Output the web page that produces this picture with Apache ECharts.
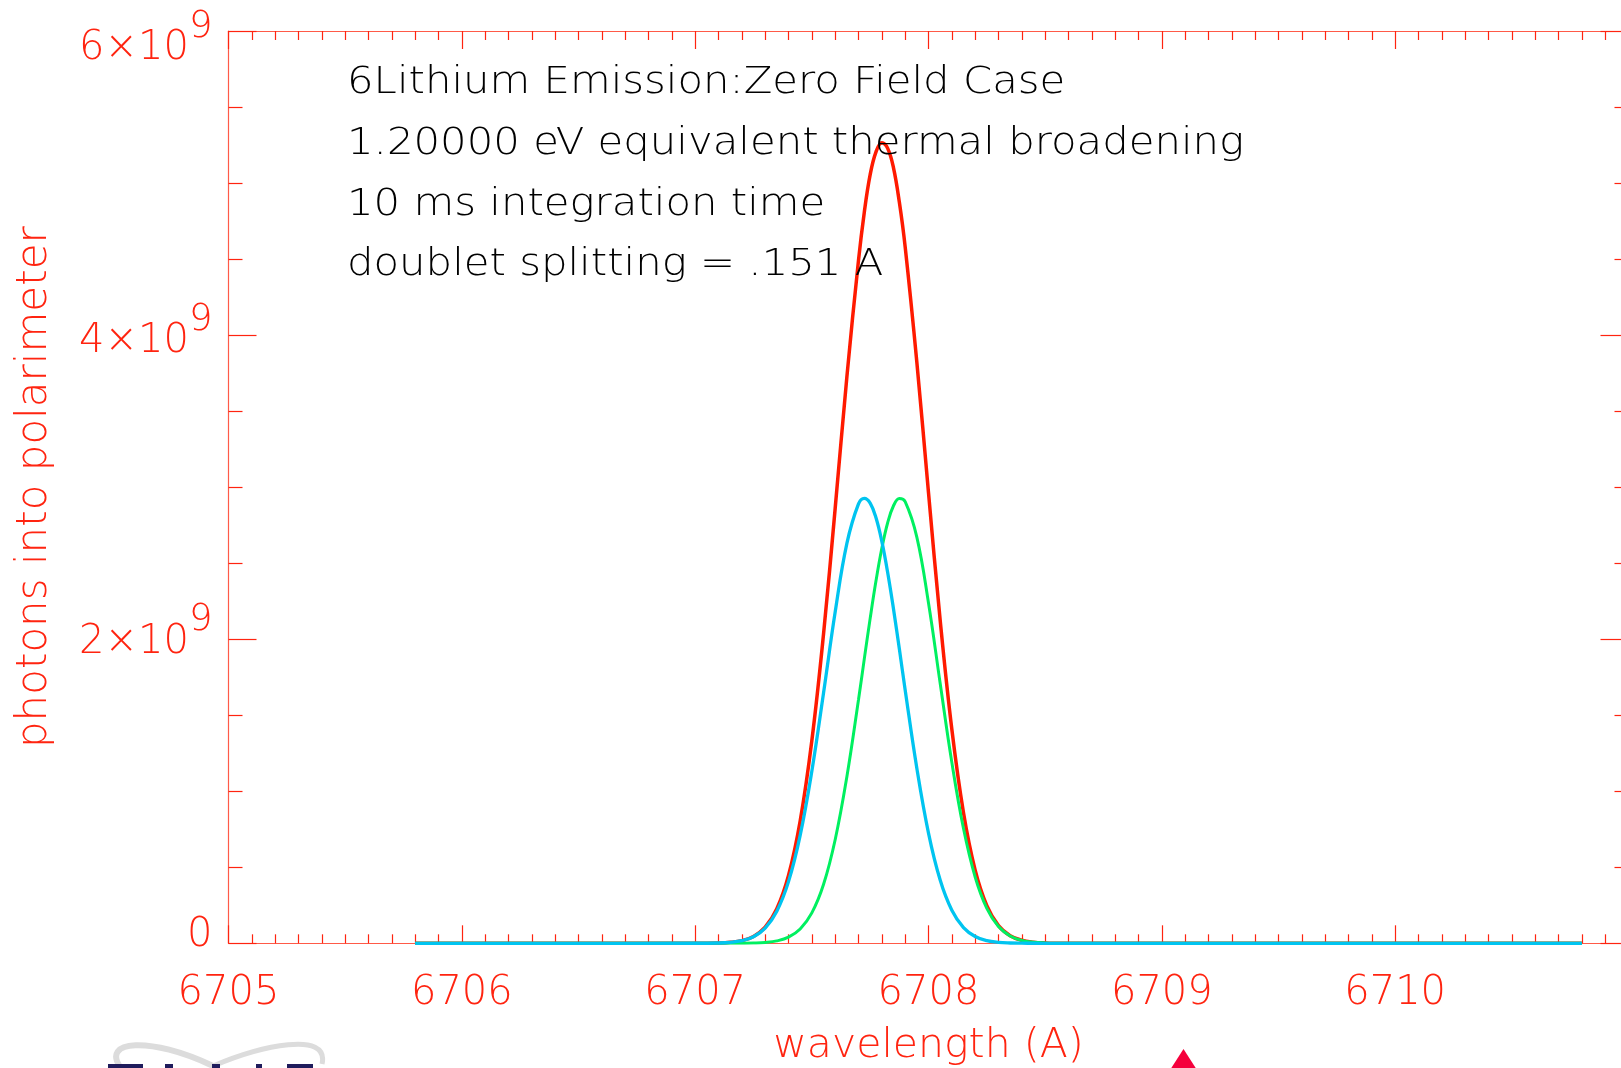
<!DOCTYPE html>
<html>
<head>
<meta charset="utf-8">
<script src="https://cdn.jsdelivr.net/npm/echarts@6/dist/echarts.min.js"></script>
<style>
  html, body { margin: 0; padding: 0; background: #ffffff; }
  #chart { width: 1621px; height: 1068px; }
</style>
</head>
<body>
<div id="chart"></div>
<script>
// Wavelength samples (Angstrom)
const wavelength = [
  6705.80, 6706.50, 6707.00, 6707.10, 6707.15, 6707.20, 6707.25, 6707.30, 6707.35, 6707.40,
  6707.45, 6707.50, 6707.55, 6707.60, 6707.65, 6707.70, 6707.725, 6707.75, 6707.775, 6707.80,
  6707.825, 6707.85, 6707.875, 6707.90, 6707.95, 6708.00, 6708.05, 6708.10, 6708.15, 6708.20,
  6708.25, 6708.30, 6708.35, 6708.40, 6708.45, 6708.50, 6708.55, 6708.60, 6708.80, 6709.50,
  6710.80
];
// Photons into polarimeter, units of 1e9
const totalLine = [
  0, 0, 0.0002, 0.0020, 0.0062, 0.0176, 0.0452, 0.1059, 0.2271, 0.4461,
  0.8040, 1.3320, 2.0314, 2.8594, 3.7225, 4.4916, 4.8100, 5.0550, 5.2050, 5.2650,
  5.2280, 5.1000, 4.8750, 4.5800, 3.8225, 2.9634, 2.1255, 1.4072, 0.8581, 0.4810,
  0.2474, 0.1166, 0.0503, 0.0198, 0.0072, 0.0023, 0.0007, 0.0002, 0, 0,
  0
];
const blueComponent = [
  0, 0, 0.0002, 0.0020, 0.0061, 0.0171, 0.0434, 0.1003, 0.2113, 0.4057,
  0.7099, 1.1322, 1.6450, 2.1781, 2.6281, 2.8895, 2.9260, 2.8948, 2.7983, 2.6428,
  2.4387, 2.1984, 1.9366, 1.6666, 1.1512, 0.7247, 0.4157, 0.2173, 0.1035, 0.0449,
  0.0178, 0.0064, 0.0021, 0.0006, 0.0002, 0, 0, 0, 0, 0,
  0
];
const greenComponent = [
  0, 0, 0, 0, 0.0001, 0.0005, 0.0018, 0.0056, 0.0158, 0.0404,
  0.0941, 0.1998, 0.3864, 0.6813, 1.0944, 1.6021, 1.8721, 2.1370, 2.3837, 2.5978,
  2.7660, 2.8775, 2.9247, 2.9043, 2.6713, 2.2387, 1.7098, 1.1899, 0.7546, 0.4361,
  0.2296, 0.1102, 0.0482, 0.0192, 0.0070, 0.0023, 0.0007, 0.0002, 0, 0,
  0
];
// Y tick mantissas (x 10^9)
const yTickValues = [0, 2, 4, 6];
const annotationLines = [
  '6Lithium Emission:Zero Field Case',
  '1.20000 eV equivalent thermal broadening',
  '10 ms integration time',
  'doublet splitting = .151 A'
];

const FONT = 'DejaVu Sans';
const WEIGHT = 200;
const RED = '#ff2410';
const AXIS_RED = '#ff5a48';

function pairs(vals) { return wavelength.map((w, i) => [w, vals[i]]); }

// per-tick vertical nudges of the y labels (px, + is down)
const yLabelShift = { 0: -8, 2: 3, 4: 7, 6: 18 };
const SUP_RAISE = 44;
const rich = {};
yTickValues.forEach(v => {
  const s = yLabelShift[v];
  const pTop = s > 0 ? 2 * s : 0, pBot = s < 0 ? -2 * s : 0;
  rich['m' + v] = { fontSize: 40, fontFamily: FONT, fontWeight: WEIGHT, color: RED, padding: [pTop, 0, pBot, 0] };
  rich['s' + v] = { fontSize: 37, fontFamily: FONT, fontWeight: WEIGHT, color: RED, padding: [pTop, 0, pBot + SUP_RAISE, 0] };
});

const chart = echarts.init(document.getElementById('chart'), null, { renderer: 'canvas' });

const tickLine = { color: RED, width: 1.2 };

const option = {
  backgroundColor: '#ffffff',
  animation: false,
  grid: { left: 228.5, top: 31, width: 1400, height: 912.3, containLabel: false, outerBoundsMode: 'none' },
  xAxis: [
    {
      type: 'value', position: 'bottom', min: 6705, max: 6711, interval: 1,
      axisLine: { show: true, onZero: false, lineStyle: { color: AXIS_RED, width: 1.2 } },
      axisTick: { show: true, inside: true, length: 18, lineStyle: tickLine },
      minorTick: { show: true, splitNumber: 10, length: 9, lineStyle: tickLine },
      splitLine: { show: false },
      axisLabel: { show: true, margin: 30, color: RED, fontSize: 40, fontFamily: FONT, fontWeight: WEIGHT, showMaxLabel: false,
        formatter: v => String(Math.round(v)) },
      name: 'wavelength (A)', nameLocation: 'middle', nameGap: 83,
      nameTextStyle: { color: RED, fontSize: 41, fontFamily: FONT, fontWeight: WEIGHT }
    },
    {
      type: 'value', position: 'top', min: 6705, max: 6711, interval: 1,
      axisLine: { show: true, onZero: false, lineStyle: { color: AXIS_RED, width: 1.2 } },
      axisTick: { show: true, inside: true, length: 18, lineStyle: tickLine },
      minorTick: { show: true, splitNumber: 10, length: 9, lineStyle: tickLine },
      splitLine: { show: false },
      axisLabel: { show: false }
    }
  ],
  yAxis: [
    {
      type: 'value', position: 'left', min: 0, max: 6, interval: 2,
      axisLine: { show: true, onZero: false, lineStyle: { color: AXIS_RED, width: 1.2 } },
      axisTick: { show: true, inside: true, length: 28, lineStyle: tickLine },
      minorTick: { show: true, splitNumber: 4, length: 14, lineStyle: tickLine },
      splitLine: { show: false },
      axisLabel: {
        show: true, margin: 16, rich: rich,
        formatter: v => {
          const n = Math.round(v);
          if (n === 0) return '{m0|0}';
          return '{m' + n + '|' + n + '\u00d710}{s' + n + '|9}';
        }
      },
      name: 'photons into polarimeter', nameLocation: 'middle', nameGap: 172, nameRotate: 90,
      nameTextStyle: { color: RED, fontSize: 42, fontFamily: FONT, fontWeight: WEIGHT }
    },
    {
      type: 'value', position: 'right', min: 0, max: 6, interval: 2,
      axisLine: { show: true, onZero: false, lineStyle: { color: AXIS_RED, width: 1.2 } },
      axisTick: { show: true, inside: true, length: 28, lineStyle: tickLine },
      minorTick: { show: true, splitNumber: 4, length: 14, lineStyle: tickLine },
      splitLine: { show: false },
      axisLabel: { show: false }
    }
  ],
  series: [
    { name: 'total', type: 'line', data: pairs(totalLine), showSymbol: false, smooth: 0.4,
      lineStyle: { color: '#ff1a00', width: 3.5 }, z: 3 },
    { name: 'green', type: 'line', data: pairs(greenComponent), showSymbol: false, smooth: 0.4,
      lineStyle: { color: '#00f060', width: 3 }, z: 4 },
    { name: 'blue', type: 'line', data: pairs(blueComponent), showSymbol: false, smooth: 0.4,
      lineStyle: { color: '#00c4f0', width: 3.3 }, z: 5 }
  ],
  graphic: [
    ...annotationLines.map((t, i) => ({
      type: 'text', x: 347, y: 102 + i * 60.7, scaleX: 1.13, z: 10,
      style: { text: t, fill: '#000000', font: WEIGHT + ' 37px "' + FONT + '"', verticalAlign: 'bottom' }
    })),
    // logo fragments along the lower edge
    { type: 'bezierCurve', z: 1, shape: { x1: 121, y1: 1068, cpx1: 100, cpy1: 1040, cpx2: 150, cpy2: 1036, x2: 213, y2: 1066 },
      style: { stroke: '#dcdcdc', lineWidth: 6, fill: null } },
    { type: 'bezierCurve', z: 1, shape: { x1: 213, y1: 1066, cpx1: 260, cpy1: 1046, cpx2: 330, cpy2: 1030, x2: 322, y2: 1064 },
      style: { stroke: '#dcdcdc', lineWidth: 5, fill: null } },
    { type: 'rect', z: 2, shape: { x: 108, y: 1064, width: 35, height: 4 }, style: { fill: '#1f1c5c' } },
    { type: 'rect', z: 2, shape: { x: 165, y: 1064, width: 8, height: 4 }, style: { fill: '#1f1c5c' } },
    { type: 'rect', z: 2, shape: { x: 212, y: 1064, width: 8, height: 4 }, style: { fill: '#1f1c5c' } },
    { type: 'rect', z: 2, shape: { x: 256, y: 1064, width: 6, height: 4 }, style: { fill: '#1f1c5c' } },
    { type: 'rect', z: 2, shape: { x: 287, y: 1064, width: 26, height: 4 }, style: { fill: '#1f1c5c' } },
    { type: 'polygon', z: 2, shape: { points: [[1183.5, 1049], [1170, 1070], [1197, 1070]] }, style: { fill: '#f5003c' } }
  ]
};

chart.setOption(option);
</script>
</body>
</html>
